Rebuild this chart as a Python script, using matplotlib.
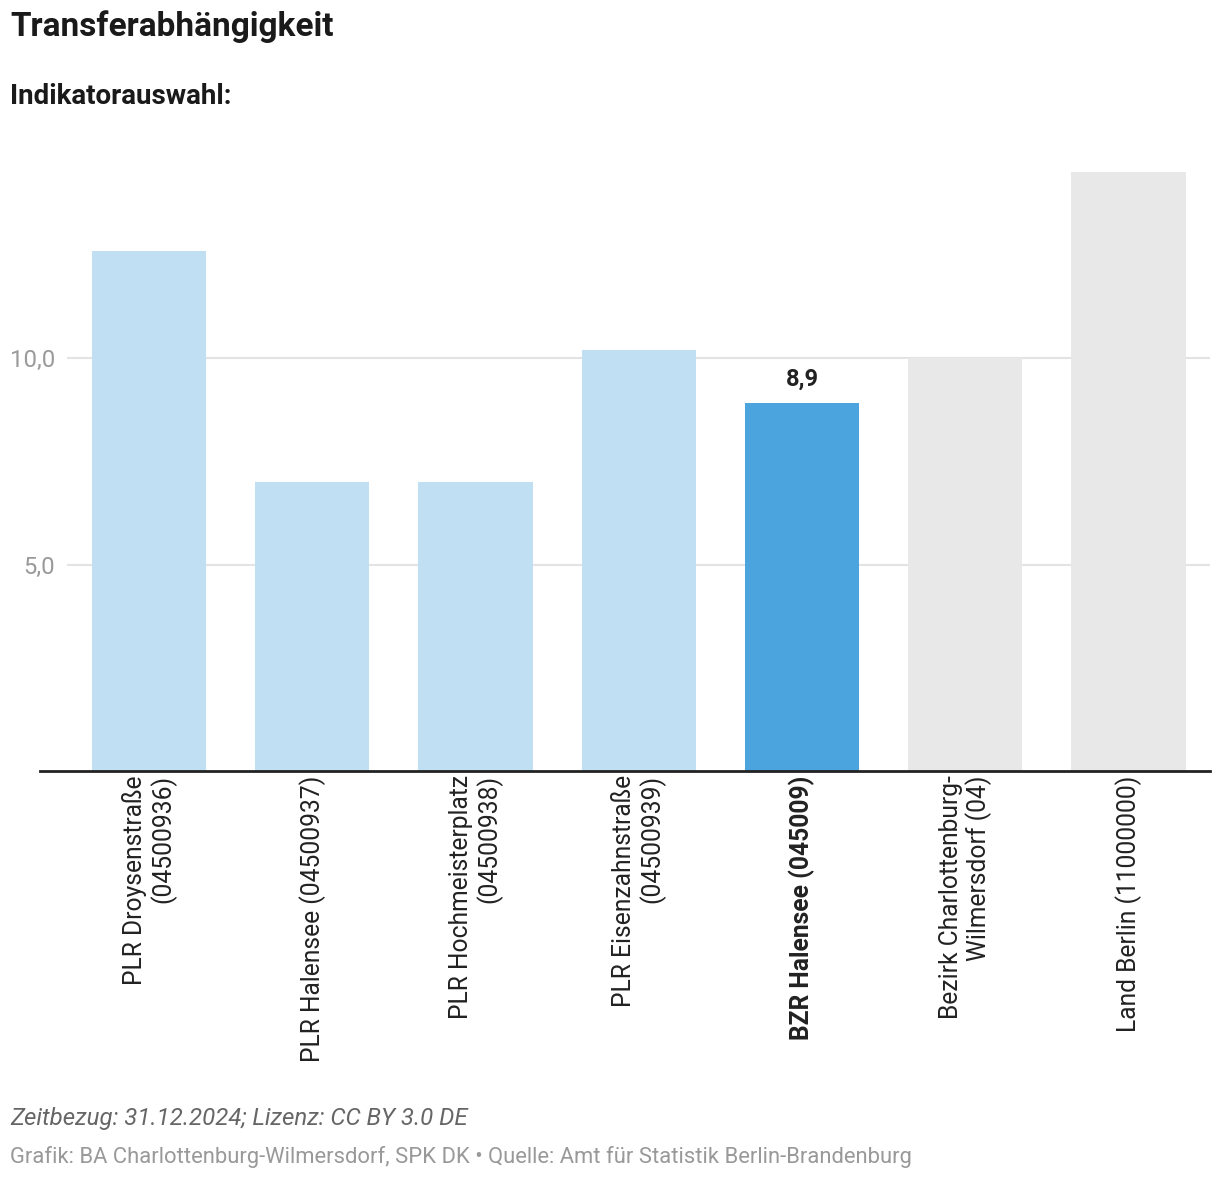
import matplotlib.pyplot as plt
import numpy as np

plt.rcParams['font.family'] = ['Roboto', 'DejaVu Sans']

# Data
categories = [
    "PLR Droysenstraße\n(04500936)",
    "PLR Halensee (04500937)",
    "PLR Hochmeisterplatz\n(04500938)",
    "PLR Eisenzahnstraße\n(04500939)",
    "BZR Halensee (045009)",
    "Bezirk Charlottenburg-\nWilmersdorf (04)",
    "Land Berlin (11000000)",
]
values = [12.6, 7.0, 7.0, 10.2, 8.9, 10.0, 14.5]
bar_colors = ["#C0DFF3", "#C0DFF3", "#C0DFF3", "#C0DFF3", "#4BA4DE", "#E8E8E8", "#E8E8E8"]
highlight = 4
yticks = [5.0, 10.0]
ytick_labels = ["5,0", "10,0"]

title = "Transferabhängigkeit"
subtitle = "Indikatorauswahl:"
note = "Zeitbezug: 31.12.2024; Lizenz: CC BY 3.0 DE"
source = "Grafik: BA Charlottenburg-Wilmersdorf, SPK DK • Quelle: Amt für Statistik Berlin-Brandenburg"

fig = plt.figure(figsize=(12.2, 11.82), dpi=100)
W, H = 1220, 1182
# axes: x 67..1210 px, y 160..771 px
ax = fig.add_axes([67.4 / W, 1 - 771 / H, (1210 - 67.4) / W, (771 - 160) / H])

x = np.arange(len(categories))
ax.bar(x, values, width=0.70, color=bar_colors, zorder=2)

ax.set_xlim(-0.5, len(categories) - 0.5)
ax.set_ylim(0, (771 - 160) / 41.3)

ax.set_yticks(yticks)
ax.set_yticklabels(ytick_labels, color="#9a9a9a", fontsize=17.2)
ax.yaxis.grid(True, color="#e3e3e3", linewidth=1.5, zorder=0)
ax.tick_params(axis="y", length=0, pad=9)

ax.set_xticks(x)
ax.set_xticklabels(categories, rotation=90, fontsize=17.7, color="#222222",
                   va="top", ha="center", multialignment="right",
                   linespacing=1.1)
ax.tick_params(axis="x", length=0, pad=3)
ax.get_xticklabels()[highlight].set_fontweight("bold")

for s in ["top", "right", "left", "bottom"]:
    ax.spines[s].set_visible(False)

# baseline extending to the left edge
ax.plot([-0.024, 1.0], [0, 0], transform=ax.get_yaxis_transform(),
        color="#222222", linewidth=2, clip_on=False, zorder=3)

# value label on highlighted bar
ax.text(x[highlight], values[highlight] + 0.3, "8,9", ha="center", va="bottom",
        fontsize=17, fontweight="bold", color="#222222")

fig.text(10 / W, 1 - 27 / H, title, fontsize=24, fontweight="bold",
         color="#1a1a1a", va="center", ha="left")
fig.text(10 / W, 1 - 97 / H, subtitle, fontsize=20, fontweight="bold",
         color="#1a1a1a", va="center", ha="left")
fig.text(10 / W, 1 - 1119 / H, note, fontsize=17.3, style="italic",
         color="#666666", va="center", ha="left")
fig.text(10 / W, 1 - 1157 / H, source, fontsize=15.85,
         color="#999999", va="center", ha="left")

fig.savefig("out.png", dpi=100, facecolor="white")
